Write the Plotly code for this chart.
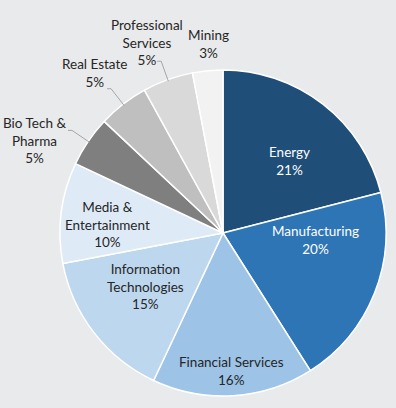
import math
import plotly.graph_objects as go

# ---- data ----
sectors = ["Energy", "Manufacturing", "Financial Services", "Information Technologies",
           "Media & Entertainment", "Bio Tech & Pharma", "Real Estate",
           "Professional Services", "Mining"]
label_text = ["Energy", "Manufacturing", "Financial Services", "Information<br>Technologies",
              "Media &<br>Entertainment", "Bio Tech &<br>Pharma", "Real Estate",
              "Professional<br>Services", "Mining"]
shares = [21, 20, 16, 15, 10, 5, 5, 5, 3]

# ---- style ----
colors = ["#1f4e79", "#2e75b6", "#9dc3e6", "#bdd7ee", "#deebf7",
          "#7f7f7f", "#bfbfbf", "#d9d9d9", "#f2f2f2"]
text_colors = ["white", "white"] + ["#262626"] * 7
label_r = [0.60, 0.57, 0.85, 0.58, 0.71, 1.29, 1.26, 1.26, 1.16]
label_da = [5, -17, 0, 3, -3, -8, -1, -2, 1]
leader = [False, False, False, False, False, True, True, True, False]

W, H = 396, 408
cx, cy, R = 223, 233, 163
bg = "#e9eaeb"

fig = go.Figure(go.Pie(
    labels=sectors, values=shares, sort=False, direction="clockwise", rotation=0,
    marker=dict(colors=colors, line=dict(color="white", width=1.5)),
    textinfo="none", hoverinfo="label+percent", showlegend=False,
    domain=dict(x=[(cx - R) / W, (cx + R) / W], y=[(H - cy - R) / H, (H - cy + R) / H]),
))

def to_paper(px, py):
    return px / W, 1 - py / H

def polar(ang_deg, rr):
    a = math.radians(ang_deg)
    return cx + rr * R * math.sin(a), cy - rr * R * math.cos(a)

total = sum(shares)
cum = 0
annotations, shapes = [], []
for i, v in enumerate(shares):
    mid = (cum + v / 2) / total * 360
    cum += v
    pct = round(v / total * 100)
    px, py = polar(mid + label_da[i], label_r[i])
    x, y = to_paper(px, py)
    annotations.append(dict(
        x=x, y=y, xref="paper", yref="paper", xanchor="center", yanchor="middle",
        text=f"{label_text[i]}<br>{pct}%", showarrow=False, align="center",
        font=dict(family="Lato, sans-serif", size=13.5, color=text_colors[i]),
    ))
    if leader[i]:
        x0, y0 = polar(mid, 0.99)
        x1, y1 = polar(mid, 1.12)
        x2, y2 = x1 - 4, y1
        path = "M {} {} L {} {} L {} {}".format(*to_paper(x0, y0), *to_paper(x1, y1), *to_paper(x2, y2))
        shapes.append(dict(type="path", path=path, xref="paper", yref="paper",
                           line=dict(color="#a6a6a6", width=1)))

fig.update_layout(
    width=W, height=H, margin=dict(l=0, r=0, t=0, b=0),
    paper_bgcolor=bg, plot_bgcolor=bg,
    annotations=annotations, shapes=shapes,
)
fig.write_html("out.html", config={"displayModeBar": False},
               post_script="document.body.style.margin='0';document.body.style.overflow='hidden';"
                           "document.body.style.background='" + bg + "';")
